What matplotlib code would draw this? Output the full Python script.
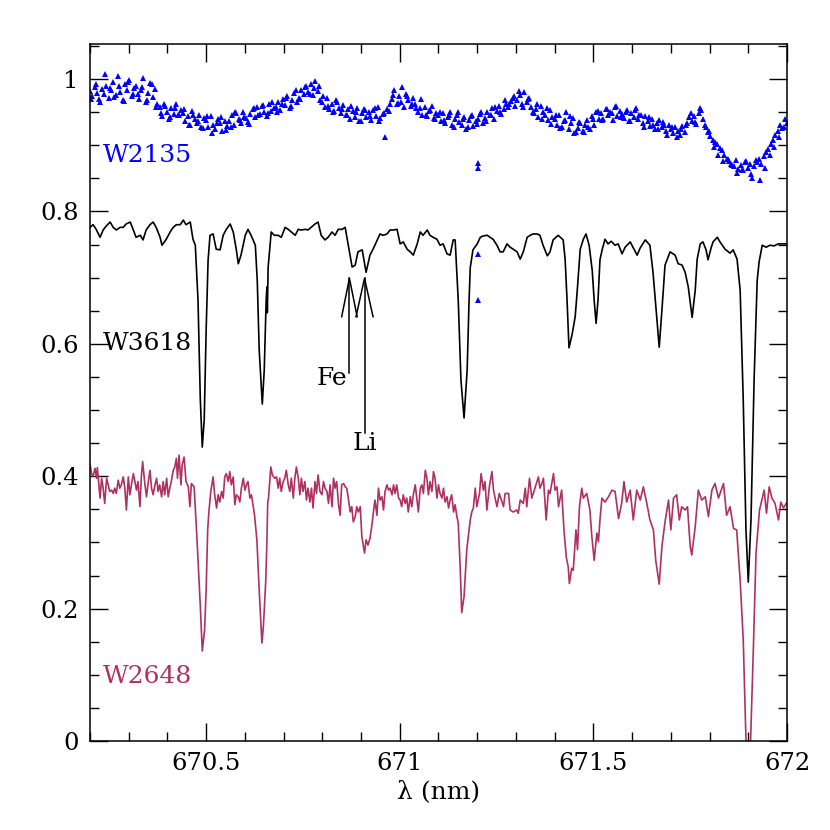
import matplotlib
matplotlib.use("Agg")
import matplotlib.pyplot as plt
from matplotlib.ticker import MultipleLocator, FuncFormatter

# W3618 (black line spectrum)
w3618_wl = [670.200, 670.208, 670.216, 670.226, 670.234, 670.242, 670.252, 670.260, 670.268, 670.278,
            670.286, 670.293, 670.304, 670.312, 670.319, 670.330, 670.337, 670.345, 670.355, 670.363,
            670.371, 670.381, 670.386, 670.397, 670.407, 670.415, 670.423, 670.433, 670.441, 670.448,
            670.459, 670.466, 670.472, 670.479, 670.485, 670.490, 670.495, 670.500, 670.505, 670.510,
            670.518, 670.526, 670.536, 670.544, 670.552, 670.562, 670.570, 670.578, 670.583, 670.590,
            670.601, 670.608, 670.616, 670.627, 670.632, 670.637, 670.645, 670.650, 670.655, 670.657,
            670.658, 670.660, 670.668, 670.676, 670.686, 670.694, 670.704, 670.712, 670.720, 670.730,
            670.738, 670.745, 670.756, 670.763, 670.771, 670.781, 670.789, 670.797, 670.807, 670.815,
            670.825, 670.833, 670.841, 670.851, 670.859, 670.867, 670.877, 670.885, 670.892, 670.903,
            670.913, 670.923, 670.931, 670.942, 670.949, 670.957, 670.967, 670.975, 670.983, 670.993,
            671.001, 671.009, 671.019, 671.027, 671.035, 671.045, 671.053, 671.060, 671.071, 671.078,
            671.086, 671.096, 671.104, 671.112, 671.122, 671.130, 671.138, 671.143, 671.151, 671.158,
            671.166, 671.174, 671.179, 671.182, 671.189, 671.200, 671.208, 671.215, 671.226, 671.233,
            671.241, 671.251, 671.259, 671.267, 671.277, 671.285, 671.293, 671.303, 671.311, 671.319,
            671.329, 671.337, 671.344, 671.355, 671.362, 671.370, 671.381, 671.388, 671.396, 671.409,
            671.422, 671.427, 671.432, 671.437, 671.445, 671.453, 671.458, 671.466, 671.474, 671.481,
            671.489, 671.497, 671.502, 671.507, 671.512, 671.517, 671.523, 671.530, 671.538, 671.546,
            671.556, 671.564, 671.574, 671.582, 671.595, 671.603, 671.613, 671.621, 671.634, 671.646,
            671.654, 671.662, 671.670, 671.677, 671.685, 671.698, 671.711, 671.719, 671.729, 671.737,
            671.745, 671.755, 671.763, 671.768, 671.776, 671.783, 671.791, 671.796, 671.804, 671.809,
            671.820, 671.827, 671.840, 671.853, 671.861, 671.871, 671.879, 671.887, 671.894, 671.900,
            671.907, 671.915, 671.923, 671.928, 671.936, 671.946, 671.956, 671.967, 671.977, 671.987,
            671.998]
w3618_flux = [0.776, 0.780, 0.773, 0.761, 0.772, 0.778, 0.784, 0.776, 0.772, 0.776,
              0.776, 0.781, 0.784, 0.772, 0.761, 0.764, 0.757, 0.772, 0.780, 0.784,
              0.776, 0.761, 0.749, 0.758, 0.769, 0.776, 0.780, 0.780, 0.787, 0.780,
              0.784, 0.758, 0.749, 0.666, 0.515, 0.444, 0.485, 0.620, 0.726, 0.764,
              0.766, 0.743, 0.742, 0.764, 0.773, 0.781, 0.769, 0.742, 0.721, 0.734,
              0.764, 0.773, 0.764, 0.749, 0.696, 0.591, 0.509, 0.560, 0.666, 0.686,
              0.647, 0.715, 0.769, 0.764, 0.764, 0.761, 0.776, 0.773, 0.769, 0.764,
              0.773, 0.772, 0.773, 0.772, 0.776, 0.781, 0.784, 0.764, 0.757, 0.761,
              0.769, 0.764, 0.773, 0.773, 0.776, 0.749, 0.716, 0.719, 0.739, 0.742,
              0.708, 0.734, 0.743, 0.757, 0.766, 0.764, 0.766, 0.772, 0.772, 0.773,
              0.751, 0.754, 0.743, 0.739, 0.734, 0.751, 0.769, 0.764, 0.772, 0.764,
              0.761, 0.758, 0.749, 0.751, 0.736, 0.734, 0.757, 0.757, 0.666, 0.545,
              0.488, 0.560, 0.666, 0.715, 0.742, 0.751, 0.761, 0.763, 0.764, 0.761,
              0.758, 0.749, 0.739, 0.739, 0.751, 0.746, 0.743, 0.739, 0.728, 0.739,
              0.761, 0.764, 0.766, 0.766, 0.764, 0.749, 0.733, 0.739, 0.757, 0.764,
              0.757, 0.728, 0.666, 0.594, 0.614, 0.641, 0.678, 0.743, 0.758, 0.766,
              0.749, 0.711, 0.666, 0.631, 0.666, 0.727, 0.743, 0.758, 0.751, 0.755,
              0.749, 0.751, 0.736, 0.746, 0.754, 0.745, 0.734, 0.745, 0.757, 0.749,
              0.708, 0.651, 0.595, 0.651, 0.719, 0.739, 0.734, 0.721, 0.719, 0.708,
              0.686, 0.640, 0.681, 0.728, 0.751, 0.754, 0.742, 0.727, 0.745, 0.754,
              0.761, 0.754, 0.743, 0.737, 0.742, 0.728, 0.681, 0.515, 0.319, 0.240,
              0.334, 0.545, 0.696, 0.724, 0.749, 0.746, 0.749, 0.748, 0.751, 0.751,
              0.751]

# W2648 (maroon line spectrum)
w2648_wl = [670.200, 670.204, 670.208, 670.213, 670.217, 670.219, 670.226, 670.230, 670.234, 670.238,
            670.243, 670.247, 670.251, 670.256, 670.260, 670.264, 670.268, 670.273, 670.277, 670.281,
            670.286, 670.290, 670.294, 670.299, 670.303, 670.307, 670.312, 670.316, 670.320, 670.324,
            670.329, 670.333, 670.336, 670.342, 670.346, 670.350, 670.355, 670.359, 670.363, 670.368,
            670.372, 670.376, 670.380, 670.385, 670.389, 670.393, 670.398, 670.402, 670.406, 670.410,
            670.415, 670.419, 670.423, 670.426, 670.430, 670.435, 670.438, 670.443, 670.448, 670.454,
            670.458, 670.462, 670.469, 670.472, 670.476, 670.485, 670.490, 670.496, 670.500, 670.504,
            670.507, 670.512, 670.518, 670.522, 670.527, 670.531, 670.535, 670.540, 670.544, 670.548,
            670.552, 670.557, 670.561, 670.565, 670.570, 670.574, 670.578, 670.583, 670.587, 670.591,
            670.596, 670.600, 670.604, 670.608, 670.613, 670.617, 670.621, 670.625, 670.631, 670.637,
            670.644, 670.648, 670.654, 670.657, 670.659, 670.661, 670.667, 670.671, 670.677, 670.682,
            670.686, 670.690, 670.694, 670.699, 670.703, 670.707, 670.712, 670.716, 670.720, 670.725,
            670.729, 670.733, 670.738, 670.742, 670.746, 670.750, 670.755, 670.759, 670.763, 670.768,
            670.772, 670.776, 670.781, 670.785, 670.789, 670.794, 670.799, 670.803, 670.807, 670.812,
            670.816, 670.820, 670.825, 670.829, 670.833, 670.837, 670.842, 670.846, 670.850, 670.855,
            670.859, 670.863, 670.867, 670.872, 670.876, 670.880, 670.885, 670.889, 670.893, 670.898,
            670.902, 670.909, 670.913, 670.918, 670.923, 670.928, 670.932, 670.936, 670.941, 670.945,
            670.949, 670.954, 670.958, 670.962, 670.967, 670.971, 670.975, 670.980, 670.984, 670.988,
            670.992, 670.997, 671.001, 671.005, 671.009, 671.014, 671.018, 671.022, 671.027, 671.031,
            671.035, 671.040, 671.044, 671.048, 671.053, 671.057, 671.061, 671.066, 671.070, 671.074,
            671.078, 671.083, 671.087, 671.091, 671.096, 671.100, 671.104, 671.109, 671.113, 671.117,
            671.122, 671.126, 671.130, 671.134, 671.139, 671.143, 671.147, 671.151, 671.156, 671.160,
            671.166, 671.173, 671.182, 671.186, 671.190, 671.195, 671.199, 671.206, 671.210, 671.216,
            671.220, 671.225, 671.232, 671.238, 671.242, 671.251, 671.257, 671.264, 671.268, 671.272,
            671.281, 671.285, 671.293, 671.302, 671.306, 671.311, 671.319, 671.324, 671.328, 671.335,
            671.341, 671.350, 671.358, 671.362, 671.367, 671.371, 671.378, 671.384, 671.388, 671.397,
            671.401, 671.406, 671.410, 671.418, 671.424, 671.430, 671.435, 671.438, 671.444, 671.448,
            671.455, 671.459, 671.464, 671.470, 671.474, 671.483, 671.487, 671.491, 671.496, 671.502,
            671.509, 671.513, 671.517, 671.522, 671.530, 671.539, 671.548, 671.556, 671.565, 671.573,
            671.579, 671.586, 671.595, 671.603, 671.612, 671.621, 671.629, 671.638, 671.646, 671.655,
            671.661, 671.670, 671.677, 671.685, 671.694, 671.700, 671.707, 671.715, 671.722, 671.728,
            671.737, 671.743, 671.750, 671.754, 671.763, 671.771, 671.780, 671.789, 671.797, 671.806,
            671.814, 671.823, 671.836, 671.844, 671.853, 671.862, 671.870, 671.879, 671.887, 671.894,
            671.900, 671.906, 671.913, 671.920, 671.929, 671.935, 671.941, 671.947, 671.954, 671.961,
            671.969, 671.978, 671.984, 671.991, 671.998]
w2648_flux = [0.419, 0.404, 0.400, 0.412, 0.397, 0.413, 0.367, 0.397, 0.382, 0.359,
              0.397, 0.387, 0.377, 0.379, 0.374, 0.382, 0.374, 0.394, 0.382, 0.387,
              0.399, 0.382, 0.349, 0.399, 0.372, 0.387, 0.404, 0.392, 0.379, 0.392,
              0.354, 0.402, 0.422, 0.387, 0.369, 0.389, 0.409, 0.382, 0.372, 0.387,
              0.397, 0.377, 0.387, 0.369, 0.392, 0.372, 0.397, 0.369, 0.382, 0.392,
              0.409, 0.414, 0.427, 0.397, 0.432, 0.387, 0.417, 0.429, 0.392, 0.384,
              0.354, 0.389, 0.384, 0.352, 0.309, 0.203, 0.136, 0.168, 0.228, 0.319,
              0.346, 0.377, 0.399, 0.372, 0.352, 0.372, 0.361, 0.377, 0.367, 0.399,
              0.404, 0.392, 0.407, 0.387, 0.399, 0.357, 0.372, 0.369, 0.361, 0.382,
              0.397, 0.379, 0.387, 0.392, 0.367, 0.372, 0.357, 0.341, 0.304, 0.228,
              0.148, 0.175, 0.243, 0.304, 0.361, 0.367, 0.414, 0.402, 0.397, 0.399,
              0.382, 0.397, 0.377, 0.392, 0.397, 0.409, 0.387, 0.377, 0.397, 0.367,
              0.397, 0.414, 0.397, 0.372, 0.397, 0.377, 0.392, 0.364, 0.382, 0.361,
              0.382, 0.352, 0.392, 0.374, 0.402, 0.377, 0.372, 0.392, 0.382, 0.377,
              0.359, 0.387, 0.354, 0.397, 0.382, 0.392, 0.357, 0.341, 0.387, 0.389,
              0.384, 0.382, 0.367, 0.346, 0.354, 0.331, 0.339, 0.354, 0.346, 0.354,
              0.309, 0.284, 0.304, 0.296, 0.306, 0.326, 0.346, 0.364, 0.341, 0.382,
              0.364, 0.369, 0.349, 0.377, 0.387, 0.379, 0.382, 0.372, 0.387, 0.374,
              0.387, 0.367, 0.364, 0.354, 0.372, 0.359, 0.367, 0.346, 0.369, 0.354,
              0.372, 0.387, 0.367, 0.346, 0.382, 0.387, 0.374, 0.409, 0.397, 0.372,
              0.392, 0.377, 0.407, 0.397, 0.367, 0.387, 0.374, 0.367, 0.382, 0.361,
              0.369, 0.352, 0.364, 0.372, 0.346, 0.357, 0.341, 0.329, 0.263, 0.194,
              0.218, 0.289, 0.334, 0.346, 0.352, 0.382, 0.354, 0.374, 0.404, 0.379,
              0.392, 0.349, 0.387, 0.407, 0.379, 0.354, 0.374, 0.361, 0.354, 0.374,
              0.374, 0.349, 0.346, 0.349, 0.344, 0.364, 0.359, 0.382, 0.354, 0.397,
              0.367, 0.384, 0.399, 0.382, 0.389, 0.397, 0.334, 0.379, 0.374, 0.404,
              0.379, 0.384, 0.354, 0.379, 0.319, 0.278, 0.263, 0.238, 0.261, 0.258,
              0.319, 0.289, 0.354, 0.382, 0.367, 0.374, 0.361, 0.349, 0.309, 0.273,
              0.314, 0.301, 0.334, 0.367, 0.361, 0.369, 0.379, 0.377, 0.336, 0.359,
              0.392, 0.361, 0.379, 0.334, 0.379, 0.364, 0.384, 0.359, 0.334, 0.319,
              0.273, 0.237, 0.294, 0.331, 0.364, 0.319, 0.367, 0.372, 0.334, 0.354,
              0.349, 0.354, 0.294, 0.281, 0.324, 0.379, 0.364, 0.369, 0.339, 0.379,
              0.389, 0.367, 0.389, 0.341, 0.354, 0.321, 0.319, 0.243, 0.153, 0.002,
              -0.006, 0.002, 0.137, 0.284, 0.349, 0.364, 0.379, 0.344, 0.384, 0.367,
              0.359, 0.334, 0.361, 0.352, 0.359]

# W2135 (blue points)
w2135_wl = [670.200, 670.206, 670.212, 670.218, 670.224, 670.230, 670.236, 670.242, 670.248, 670.254,
            670.260, 670.266, 670.272, 670.278, 670.284, 670.290, 670.296, 670.302, 670.308, 670.314,
            670.320, 670.326, 670.332, 670.338, 670.344, 670.350, 670.356, 670.362, 670.368, 670.374,
            670.380, 670.386, 670.392, 670.398, 670.404, 670.410, 670.416, 670.422, 670.428, 670.434,
            670.440, 670.446, 670.452, 670.458, 670.464, 670.470, 670.476, 670.482, 670.488, 670.494,
            670.500, 670.506, 670.512, 670.518, 670.524, 670.530, 670.536, 670.542, 670.548, 670.554,
            670.560, 670.566, 670.572, 670.578, 670.584, 670.590, 670.596, 670.602, 670.608, 670.614,
            670.620, 670.626, 670.632, 670.638, 670.644, 670.650, 670.656, 670.662, 670.668, 670.674,
            670.680, 670.686, 670.692, 670.698, 670.704, 670.710, 670.716, 670.722, 670.728, 670.734,
            670.740, 670.746, 670.752, 670.758, 670.764, 670.770, 670.776, 670.782, 670.788, 670.794,
            670.800, 670.806, 670.812, 670.818, 670.824, 670.830, 670.836, 670.842, 670.848, 670.854,
            670.860, 670.866, 670.872, 670.878, 670.884, 670.890, 670.896, 670.902, 670.908, 670.914,
            670.920, 670.926, 670.932, 670.938, 670.944, 670.950, 670.956, 670.962, 670.968, 670.974,
            670.980, 670.986, 670.992, 670.998, 671.004, 671.010, 671.016, 671.022, 671.028, 671.034,
            671.040, 671.046, 671.052, 671.058, 671.064, 671.070, 671.076, 671.082, 671.088, 671.094,
            671.100, 671.106, 671.112, 671.118, 671.124, 671.130, 671.136, 671.142, 671.148, 671.154,
            671.160, 671.166, 671.172, 671.178, 671.184, 671.190, 671.196, 671.202, 671.208, 671.214,
            671.220, 671.226, 671.232, 671.238, 671.244, 671.250, 671.256, 671.262, 671.268, 671.274,
            671.280, 671.286, 671.292, 671.298, 671.304, 671.310, 671.316, 671.322, 671.328, 671.334,
            671.340, 671.346, 671.352, 671.358, 671.364, 671.370, 671.376, 671.382, 671.388, 671.394,
            671.400, 671.406, 671.412, 671.418, 671.424, 671.430, 671.436, 671.442, 671.448, 671.454,
            671.460, 671.466, 671.472, 671.478, 671.484, 671.490, 671.496, 671.502, 671.508, 671.514,
            671.520, 671.526, 671.532, 671.538, 671.544, 671.550, 671.556, 671.562, 671.568, 671.574,
            671.580, 671.586, 671.592, 671.598, 671.604, 671.610, 671.616, 671.622, 671.628, 671.634,
            671.640, 671.646, 671.652, 671.658, 671.664, 671.670, 671.676, 671.682, 671.688, 671.694,
            671.700, 671.706, 671.712, 671.718, 671.724, 671.730, 671.736, 671.742, 671.748, 671.754,
            671.760, 671.766, 671.772, 671.778, 671.784, 671.790, 671.796, 671.802, 671.808, 671.814,
            671.820, 671.826, 671.832, 671.838, 671.844, 671.850, 671.856, 671.862, 671.868, 671.874,
            671.880, 671.886, 671.892, 671.898, 671.904, 671.910, 671.916, 671.922, 671.928, 671.934,
            671.940, 671.946, 671.952, 671.958, 671.964, 671.970, 671.976, 671.982, 671.988, 671.994,
            672.000,
            671.201, 671.202, 671.203, 671.202]
w2135_flux = [0.982, 0.975, 0.988, 0.979, 0.970, 0.985, 0.977, 0.990, 0.972, 0.983,
              0.995, 0.976, 1.004, 0.981, 0.968, 0.992, 0.984, 0.999, 0.974, 0.986,
              0.990, 0.970, 0.983, 1.001, 0.966, 0.979, 0.994, 0.973, 0.985, 0.962,
              0.958, 0.944, 0.962, 0.950, 0.939, 0.957, 0.947, 0.963, 0.945, 0.953,
              0.949, 0.936, 0.944, 0.930, 0.952, 0.940, 0.933, 0.946, 0.928, 0.941,
              0.938, 0.927, 0.944, 0.931, 0.924, 0.940, 0.933, 0.921, 0.937, 0.929,
              0.936, 0.945, 0.930, 0.948, 0.939, 0.933, 0.951, 0.941, 0.935, 0.947,
              0.955, 0.942, 0.958, 0.947, 0.960, 0.950, 0.944, 0.962, 0.952, 0.957,
              0.958, 0.966, 0.953, 0.970, 0.961, 0.975, 0.957, 0.968, 0.979, 0.965,
              0.972, 0.984, 0.977, 0.989, 0.981, 0.993, 0.976, 0.997, 0.982, 0.968,
              0.966, 0.958, 0.971, 0.955, 0.963, 0.952, 0.968, 0.957, 0.949, 0.961,
              0.946, 0.955, 0.940, 0.952, 0.943, 0.957, 0.936, 0.949, 0.955, 0.942,
              0.950, 0.938, 0.953, 0.944, 0.958, 0.941, 0.947, 0.913, 0.955, 0.962,
              0.970, 0.983, 0.962, 0.974, 0.966, 0.958, 0.977, 0.969, 0.960, 0.972,
              0.963, 0.950, 0.957, 0.946, 0.958, 0.944, 0.952, 0.960, 0.941, 0.949,
              0.945, 0.936, 0.948, 0.933, 0.942, 0.950, 0.930, 0.939, 0.946, 0.935,
              0.931, 0.942, 0.925, 0.938, 0.944, 0.929, 0.936, 0.940, 0.947, 0.933,
              0.941, 0.950, 0.945, 0.956, 0.939, 0.952, 0.960, 0.947, 0.955, 0.962,
              0.958, 0.967, 0.972, 0.960, 0.969, 0.976, 0.963, 0.980, 0.966, 0.971,
              0.958, 0.948, 0.955, 0.943, 0.960, 0.950, 0.945, 0.938, 0.953, 0.942,
              0.940, 0.931, 0.945, 0.928, 0.936, 0.950, 0.925, 0.933, 0.941, 0.920,
              0.926, 0.934, 0.922, 0.930, 0.938, 0.924, 0.944, 0.931, 0.950, 0.940,
              0.948, 0.940, 0.955, 0.945, 0.951, 0.938, 0.958, 0.944, 0.952, 0.947,
              0.941, 0.953, 0.936, 0.948, 0.943, 0.957, 0.939, 0.946, 0.933, 0.944,
              0.936, 0.929, 0.940, 0.925, 0.933, 0.938, 0.927, 0.931, 0.922, 0.930,
              0.925, 0.918, 0.928, 0.921, 0.915, 0.929, 0.920, 0.933, 0.942, 0.936,
              0.944, 0.932, 0.948, 0.953, 0.940, 0.928, 0.920, 0.914, 0.908, 0.905,
              0.902, 0.896, 0.893, 0.885, 0.880, 0.876, 0.872, 0.868, 0.878, 0.864,
              0.870, 0.862, 0.875, 0.866, 0.871, 0.850, 0.868, 0.874, 0.880, 0.872,
              0.884, 0.890, 0.895, 0.902, 0.908, 0.915, 0.922, 0.930, 0.926, 0.940,
              0.934,
              0.873, 0.866, 0.736, 0.666]

# second set of W2135 readings, offset in wavelength
w2135b_wl = [670.203, 670.215, 670.227, 670.239, 670.251, 670.263, 670.275, 670.287, 670.299, 670.311,
             670.323, 670.335, 670.347, 670.359, 670.371, 670.383, 670.395, 670.407, 670.419, 670.431,
             670.443, 670.455, 670.467, 670.479, 670.491, 670.503, 670.515, 670.527, 670.539, 670.551,
             670.563, 670.575, 670.587, 670.599, 670.611, 670.623, 670.635, 670.647, 670.659, 670.671,
             670.683, 670.695, 670.707, 670.719, 670.731, 670.743, 670.755, 670.767, 670.779, 670.791,
             670.803, 670.815, 670.827, 670.839, 670.851, 670.863, 670.875, 670.887, 670.899, 670.911,
             670.923, 670.935, 670.947, 670.959, 670.971, 670.983, 670.995, 671.007, 671.019, 671.031,
             671.043, 671.055, 671.067, 671.079, 671.091, 671.103, 671.115, 671.127, 671.139, 671.151,
             671.163, 671.175, 671.187, 671.199, 671.211, 671.223, 671.235, 671.247, 671.259, 671.271,
             671.283, 671.295, 671.307, 671.319, 671.331, 671.343, 671.355, 671.367, 671.379, 671.391,
             671.403, 671.415, 671.427, 671.439, 671.451, 671.463, 671.475, 671.487, 671.499, 671.511,
             671.523, 671.535, 671.547, 671.559, 671.571, 671.583, 671.595, 671.607, 671.619, 671.631,
             671.643, 671.655, 671.667, 671.679, 671.691, 671.703, 671.715, 671.727, 671.739, 671.751,
             671.763, 671.775, 671.787, 671.799, 671.811, 671.823, 671.835, 671.847, 671.859, 671.871,
             671.883, 671.895, 671.907, 671.919, 671.931, 671.943, 671.955, 671.967, 671.979, 671.991]
w2135b_flux = [0.970, 0.992, 0.966, 1.008, 0.986, 0.973, 0.989, 0.967, 0.996, 0.978,
               0.978, 0.988, 0.969, 0.993, 0.958, 0.948, 0.960, 0.942, 0.956, 0.946,
               0.955, 0.931, 0.945, 0.937, 0.926, 0.944, 0.919, 0.934, 0.942, 0.923,
               0.928, 0.950, 0.938, 0.943, 0.932, 0.956, 0.946, 0.961, 0.948, 0.965,
               0.950, 0.963, 0.972, 0.960, 0.983, 0.970, 0.988, 0.978, 0.986, 0.990,
               0.975, 0.960, 0.950, 0.966, 0.955, 0.945, 0.960, 0.950, 0.937, 0.953,
               0.944, 0.956, 0.936, 0.949, 0.952, 0.976, 0.964, 0.988, 0.975, 0.962,
               0.956, 0.970, 0.945, 0.953, 0.940, 0.951, 0.938, 0.945, 0.928, 0.950,
               0.940, 0.928, 0.945, 0.932, 0.950, 0.936, 0.946, 0.958, 0.950, 0.968,
               0.963, 0.975, 0.982, 0.958, 0.970, 0.950, 0.962, 0.940, 0.956, 0.932,
               0.945, 0.926, 0.938, 0.944, 0.918, 0.935, 0.920, 0.928, 0.940, 0.952,
               0.938, 0.955, 0.948, 0.960, 0.942, 0.950, 0.937, 0.954, 0.945, 0.928,
               0.942, 0.930, 0.924, 0.935, 0.915, 0.927, 0.912, 0.924, 0.930, 0.948,
               0.935, 0.957, 0.930, 0.922, 0.898, 0.886, 0.876, 0.880, 0.870, 0.858,
               0.862, 0.876, 0.857, 0.878, 0.848, 0.866, 0.885, 0.898, 0.913, 0.928]

# labels and the Fe / Li markers
star_names = ["W2135", "W3618", "W2648"]
star_colors = ["#0000ff", "black", "#b03060"]
name_y = [0.885, 0.601, 0.098]
line_ids = ["Fe", "Li"]
line_wl = [670.870, 670.909]
arrow_tail = [0.556, 0.465]
arrow_tip = 0.699
head_drop = 0.058
head_half = [0.020, 0.022]
label_xy = [(670.826, 0.548), (670.911, 0.450)]

plt.rcParams["font.family"] = "DejaVu Serif"

fig = plt.figure(figsize=(8.3, 8.3), dpi=100)
ax = fig.add_axes([0.1084, 0.1072, 0.8398, 0.8398])

for wl, fl in [(w2135_wl, w2135_flux), (w2135b_wl, w2135b_flux)]:
    ax.plot(wl, fl, linestyle="none", marker="^", ms=3.8, mew=0,
            color=star_colors[0])
ax.plot(w3618_wl, w3618_flux, color=star_colors[1], lw=1.2)
ax.plot(w2648_wl, w2648_flux, color=star_colors[2], lw=1.2)

for name, col, yy in zip(star_names, star_colors, name_y):
    ax.text(670.234, yy, name, color=col, fontsize=18, ha="left", va="center")

# arrows pointing at Fe and Li features
for i, lbl in enumerate(line_ids):
    x0 = line_wl[i]
    ax.plot([x0, x0], [arrow_tail[i], arrow_tip], color="black", lw=1.1)
    ax.plot([x0 - head_half[i], x0, x0 + head_half[i]],
            [arrow_tip - head_drop, arrow_tip, arrow_tip - head_drop],
            color="black", lw=1.1)
    ax.text(label_xy[i][0], label_xy[i][1], lbl, fontsize=18,
            ha="center", va="center")

ax.set_xlim(670.2, 672.0)
ax.set_ylim(0, 1.053)

ax.xaxis.set_major_locator(MultipleLocator(0.5))
ax.xaxis.set_minor_locator(MultipleLocator(0.1))
ax.yaxis.set_major_locator(MultipleLocator(0.2))
ax.yaxis.set_minor_locator(MultipleLocator(0.05))
fmt = FuncFormatter(lambda v, p: "%g" % round(v, 3))
ax.xaxis.set_major_formatter(fmt)
ax.yaxis.set_major_formatter(fmt)

ax.tick_params(which="both", direction="in", top=True, right=True, width=1.0)
ax.tick_params(which="major", length=13, labelsize=17.5, pad=8)
ax.tick_params(which="minor", length=6.5)
for s in ax.spines.values():
    s.set_linewidth(1.1)

ax.set_xlabel("λ (nm)", fontsize=18, labelpad=4)

fig.savefig("out.png", dpi=100)
